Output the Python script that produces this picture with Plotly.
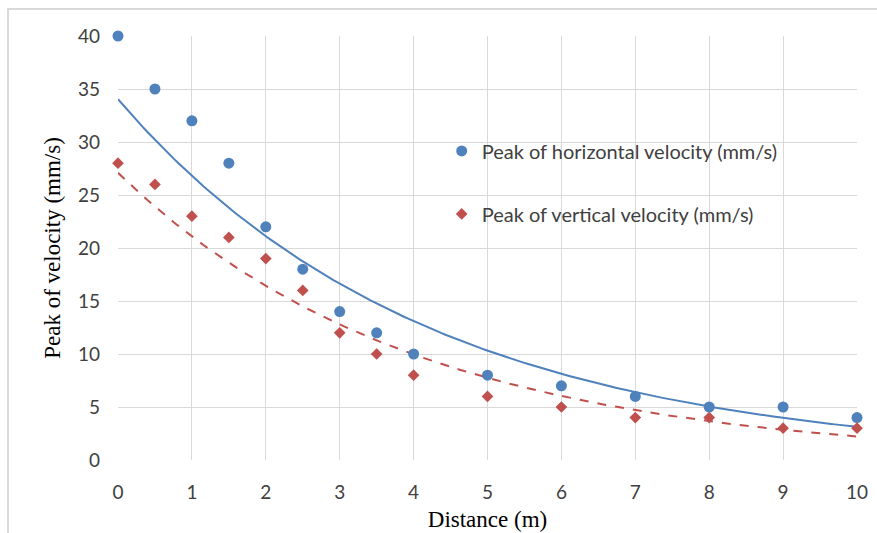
import numpy as np
import plotly.graph_objects as go

distance = [0, 0.5, 1, 1.5, 2, 2.5, 3, 3.5, 4, 5, 6, 7, 8, 9, 10]
horizontal = [40, 35, 32, 28, 22, 18, 14, 12, 10, 8, 7, 6, 5, 5, 4]
vertical = [28, 26, 23, 21, 19, 16, 12, 10, 8, 6, 5, 4, 4, 3, 3]
x_ticks = list(range(0, 11))
y_ticks = list(range(0, 41, 5))

name_h = "Peak of horizontal velocity (mm/s)"
name_v = "Peak of vertical velocity (mm/s)"

blue = "#4F81BD"
red = "#C0504D"


def exp_fit(x, y):
    x = np.asarray(x, float)
    b, a = np.polyfit(x, np.log(np.asarray(y, float)), 1)
    xs = np.linspace(x.min(), x.max(), 200)
    return xs, np.exp(a) * np.exp(b * xs)


xh, yh = exp_fit(distance, horizontal)
xv, yv = exp_fit(distance, vertical)

fig = go.Figure()
fig.add_trace(go.Scatter(x=xh, y=yh, mode="lines", line=dict(color=blue, width=2),
                         showlegend=False, hoverinfo="skip", cliponaxis=False))
fig.add_trace(go.Scatter(x=xv, y=yv, mode="lines", line=dict(color=red, width=2, dash="dash"),
                         showlegend=False, hoverinfo="skip", cliponaxis=False))
fig.add_trace(go.Scatter(x=distance, y=horizontal, mode="markers", name=name_h,
                         legendgroup="h", cliponaxis=False,
                         marker=dict(symbol="circle", size=11, color=blue)))
fig.add_trace(go.Scatter(x=distance, y=vertical, mode="markers", name=name_v,
                         legendgroup="v", cliponaxis=False,
                         marker=dict(symbol="diamond", size=9, color=red)))

grid = "#D9D9D9"
tick_font = dict(family="Lato, Open Sans, sans-serif", size=19, color="#404040")
title_font = dict(family="Liberation Serif, Times New Roman, serif", size=23, color="#000000")

fig.update_layout(
    width=877, height=533,
    margin=dict(l=118, r=20, t=36, b=73),
    paper_bgcolor="white", plot_bgcolor="white",
    xaxis=dict(range=[0, 10], tickvals=x_ticks, showgrid=True, gridcolor=grid, gridwidth=1,
               zeroline=False, showline=False, ticks="", tickfont=tick_font, ticklabelstandoff=19,
               automargin=False,
               title=dict(text="Distance (m)", font=title_font, standoff=8)),
    yaxis=dict(range=[0, 40], tickvals=y_ticks, showgrid=True, gridcolor=grid, gridwidth=1,
               zeroline=False, showline=False, ticks="", tickfont=tick_font, ticklabelstandoff=17,
               automargin=False,
               title=dict(text="Peak of velocity (mm/s)", font=title_font, standoff=10)),
    legend=dict(x=0.438, y=0.775, xanchor="left", yanchor="top", bgcolor="rgba(0,0,0,0)",
                font=dict(family="Lato, Open Sans, sans-serif", size=20, color="#404040"),
                tracegroupgap=34, itemwidth=30),
    showlegend=True,
)

fig.add_shape(type="rect", xref="paper", yref="paper",
              x0=(8 - 118) / 739, x1=(885 - 118) / 739,
              y0=(460 - 545) / 424, y1=(460 - 9) / 424,
              line=dict(color="#D9D9D9", width=2), fillcolor="rgba(0,0,0,0)", layer="below")

fig.write_html("out.html")
